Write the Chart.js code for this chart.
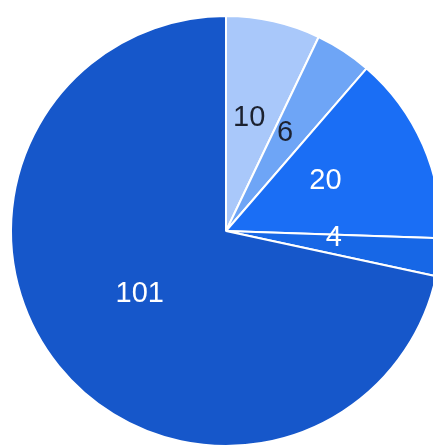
<!DOCTYPE html>
<html>
<head>
<meta charset="utf-8">
<script src="https://cdn.jsdelivr.net/npm/chart.js@4.4.0/dist/chart.umd.min.js"></script>
<style>
    html, body { margin: 0; padding: 0; background: #fff; overflow: hidden; }
    #wrap { position: absolute; left: 0; top: 0; width: 452px; height: 462px; }
</style>
</head>
<body>
<div id="wrap"><canvas id="chart" width="452" height="462"></canvas></div>
<script>
// slice values, clockwise from 12 o'clock
const labels = ['A', 'B', 'C', 'D', 'E'];
const values = [10, 6, 20, 4, 101];
const sliceColors = ['#a9c8fa', '#6ea5f6', '#1a6ef5', '#1767e6', '#1657ca'];
const textColors = ['#1c2230', '#1c2230', '#ffffff', '#ffffff', '#ffffff'];

// draws the value of each slice inside it
const sliceLabels = {
    id: 'sliceLabels',
    afterDatasetsDraw(chart, args, opts) {
        const ctx = chart.ctx;
        const meta = chart.getDatasetMeta(0);
        ctx.save();
        ctx.font = opts.font;
        ctx.textAlign = 'center';
        ctx.textBaseline = 'middle';
        meta.data.forEach((arc, i) => {
            const p = arc.getProps(['x', 'y', 'startAngle', 'endAngle', 'outerRadius'], true);
            const mid = (p.startAngle + p.endAngle) / 2;
            const r = p.outerRadius * opts.radius;
            ctx.fillStyle = textColors[i];
            ctx.fillText(String(values[i]),
                p.x + Math.cos(mid) * r + opts.dx,
                p.y + Math.sin(mid) * r + opts.dy);
        });
        ctx.restore();
    }
};

new Chart(document.getElementById('chart'), {
    type: 'pie',
    data: {
        labels: labels,
        datasets: [{
            data: values,
            backgroundColor: sliceColors,
            borderColor: '#ffffff',
            borderWidth: 2
        }]
    },
    options: {
        responsive: false,
        animation: false,
        layout: { padding: { left: 10, right: 10, top: 15, bottom: 15 } },
        plugins: {
            legend: { display: false },
            tooltip: { enabled: false },
            sliceLabels: {
                font: '29px "Liberation Sans", Arial, sans-serif',
                radius: 0.51,
                dx: -1,
                dy: -6
            }
        }
    },
    plugins: [sliceLabels]
});
</script>
</body>
</html>
